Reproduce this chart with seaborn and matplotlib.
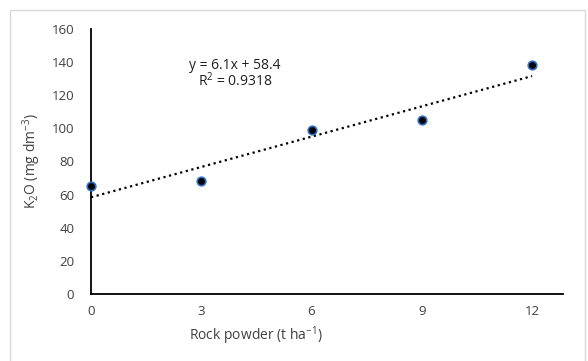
import numpy as np
import pandas as pd
import matplotlib
matplotlib.use("Agg")
import matplotlib.pyplot as plt
import seaborn as sns

# data
rock_powder = [0, 3, 6, 9, 12]
k2o = [65, 68, 99, 105, 138]
x_ticks = [0, 3, 6, 9, 12]
y_ticks = [0, 20, 40, 60, 80, 100, 120, 140, 160]

df = pd.DataFrame({"dose": rock_powder, "k2o": k2o})

sns.set_style("white")
plt.rcParams["font.family"] = ["Open Sans", "DejaVu Sans"]
plt.rcParams["mathtext.default"] = "regular"

fig = plt.figure(figsize=(5.88, 3.61), dpi=100)
ax = fig.add_axes([91 / 588, 1 - 294 / 361, (563 - 91) / 588, (294 - 29) / 361])

# linear trend (dotted)
slope, intercept = np.polyfit(df["dose"], df["k2o"], 1)
xs = np.array([0, 12])
ax.plot(xs, slope * xs + intercept, linestyle=(0, (1, 1.6)), color="black", lw=1.6, zorder=2)

sns.scatterplot(data=df, x="dose", y="k2o", ax=ax, s=38, color="black",
                edgecolor="#2f6fc7", linewidth=1.2, zorder=3, clip_on=False)

ax.set_xlim(0, 12.84)
ax.set_ylim(0, 160)
ax.set_xticks(x_ticks)
ax.set_yticks(y_ticks)
ax.tick_params(axis="both", length=0, labelsize=9.5, colors="#404040", pad=8)
ax.tick_params(axis="y", pad=12)
for s in ["top", "right"]:
    ax.spines[s].set_visible(False)
for s in ["left", "bottom"]:
    ax.spines[s].set_color("black")
    ax.spines[s].set_linewidth(1.3)

ax.set_xlabel("")
ax.set_ylabel(r"K$_2$O (mg dm$^{-3}$)", fontsize=10, color="#404040", labelpad=6)
fig.text(256 / 588, 1 - 336 / 361, r"Rock powder (t ha$^{-1}$)", ha="center", va="center",
         fontsize=10, color="#404040")

ax.text(3.92, 138, "y = 6.1x + 58.4", ha="center", va="center", fontsize=10, color="#202020")
ax.text(3.92, 128.5, r"R$^2$ = 0.9318", ha="center", va="center", fontsize=10, color="#202020")

# light frame around the chart area
fig.patches.append(plt.Rectangle((10 / 588, -0.01), 575 / 588, 1.01 - 10 / 361, transform=fig.transFigure,
                                 fill=False, edgecolor="#d9d9d9", linewidth=1))

fig.savefig("out.png", dpi=100)
